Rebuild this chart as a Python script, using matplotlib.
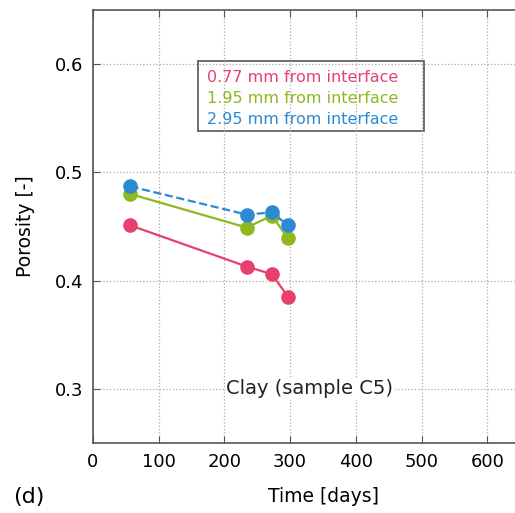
import matplotlib
matplotlib.use("Agg")
import matplotlib.pyplot as plt

plt.rcParams['font.family'] = ['DejaVu Sans']

# time in days and porosity at three distances from the interface
days = [57, 234, 272, 297]
por_077 = [0.451, 0.413, 0.406, 0.385]
por_195 = [0.480, 0.449, 0.460, 0.439]
por_295 = [0.487, 0.461, 0.463, 0.451]

labels = ['0.77 mm from interface', '1.95 mm from interface', '2.95 mm from interface']
colors = ['#e8406c', '#8db81e', '#2b8ad2']

fig = plt.figure(figsize=(5.15, 5.13), dpi=100)
ax = fig.add_axes([93/515, 70/513, 460/515, 433/513])

ax.plot(days, por_077, '-o', color=colors[0], lw=1.6, ms=9.5)
ax.plot(days, por_195, '-o', color=colors[1], lw=1.6, ms=9.5)
ax.plot(days, por_295, '--o', color=colors[2], lw=1.6, ms=9.5)

ax.set_xlim(0, 700)
ax.set_ylim(0.25, 0.65)
ax.set_xticks([0, 100, 200, 300, 400, 500, 600])
ax.set_yticks([0.3, 0.4, 0.5, 0.6])
ax.grid(True, ls=':', color='#aaaaaa', lw=0.9)
ax.tick_params(direction='in', top=True, right=True, labelsize=13, length=5,
               color='#555555', pad=7)
for s in ax.spines.values():
    s.set_color('#555555')
    s.set_linewidth(1.2)

ax.set_xlabel('Time [days]', fontsize=13.5, labelpad=12)
ax.set_ylabel('Porosity [-]', fontsize=13.5, labelpad=14)

ax.text(330, 0.3, 'Clay (sample C5)', ha='center', va='center', fontsize=14,
        color='#222222', bbox=dict(fc='white', ec='none', pad=1))

leg_y = [0.588, 0.5685, 0.549]
for lab, col, y in zip(labels, colors, leg_y):
    ax.text(173, y, lab, color=col, fontsize=11.5, ha='left', va='center')
ax.add_patch(plt.Rectangle((160, 0.538), 344, 0.065, fill=True, fc='white',
                           ec='#555555', lw=1.2, zorder=1.5))

fig.text(13/515, 1 - 497/513, '(d)', fontsize=16, va='center', ha='left')

fig.savefig('out.png', dpi=100)
